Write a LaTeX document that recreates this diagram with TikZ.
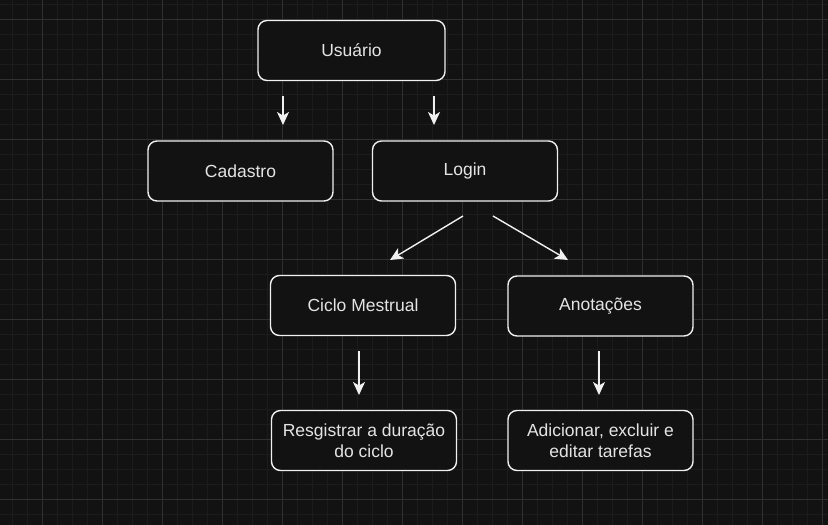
\documentclass[tikz,border=0pt]{standalone}
\usepackage{fontspec}
\setmainfont{Liberation Sans}
\usetikzlibrary{arrows.meta}
\definecolor{bgc}{HTML}{121212}
\definecolor{minorc}{HTML}{1C1C1C}
\definecolor{majorc}{HTML}{303030}
\definecolor{linec}{HTML}{F0F0F0}
\definecolor{textc}{HTML}{E4E4E4}
\tikzset{
  box/.style={draw=linec, fill=bgc, line width=1.4pt, rounded corners=9pt,
    minimum width=185pt, minimum height=60pt, inner sep=2pt,
    text=textc, font=\fontsize{17.5}{21}\selectfont, align=center},
  arr/.style={draw=linec, line width=1.4pt, -{Stealth[length=13pt,width=12pt,inset=3.5pt]}}
}
\begin{document}
\begin{tikzpicture}[x=1pt,y=-1pt]
\fill[bgc] (0,0) rectangle (828,525);
\useasboundingbox (0,0) rectangle (828,525);
% grid
\foreach \x in {12,27,...,827} \draw[minorc, line width=1pt] (\x,0) -- (\x,525);
\foreach \y in {4,19,...,524} \draw[minorc, line width=1pt] (0,\y) -- (828,\y);
\foreach \x in {42,102,...,827} \draw[majorc, line width=1pt] (\x,0) -- (\x,525);
\foreach \y in {19,79,...,524} \draw[majorc, line width=1pt] (0,\y) -- (828,\y);
% nodes
\node[box, minimum width=187pt] (usuario) at (351.5,50.5) {Usuário};
\node[box] (cadastro) at (240.5,171) {Cadastro};
\node[box] (login) at (465,171) {Login};
\node[box] (ciclo) at (363,305.5) {Ciclo Mestrual};
\node[box] (anot) at (600.5,306) {Anotações};
\node[box] (resg) at (364,440.5) {Resgistrar a duração\\do ciclo};
\node[box] (adic) at (600.5,440.5) {Adicionar, excluir e\\editar tarefas};
% arrow endpoints
\coordinate (a1s) at (283,96);  \coordinate (a1e) at (283,125);
\coordinate (a2s) at (434,96);  \coordinate (a2e) at (434,125);
\coordinate (a3s) at (463,216); \coordinate (a3e) at (390,260);
\coordinate (a4s) at (493,216); \coordinate (a4e) at (568,260);
\coordinate (a5s) at (359,351); \coordinate (a5e) at (359,395);
\coordinate (a6s) at (599,351); \coordinate (a6e) at (599,395);
\draw[arr] (a1s) -- (a1e);
\draw[arr] (a2s) -- (a2e);
\draw[arr] (a3s) -- (a3e);
\draw[arr] (a4s) -- (a4e);
\draw[arr] (a5s) -- (a5e);
\draw[arr] (a6s) -- (a6e);
\end{tikzpicture}
\end{document}
